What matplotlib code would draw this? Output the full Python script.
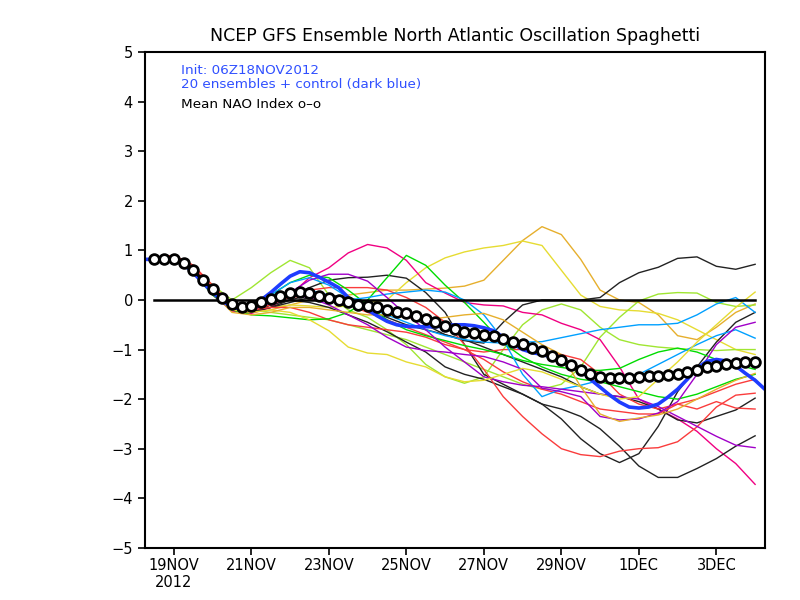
import numpy as np
import pandas as pd
import matplotlib
matplotlib.use('Agg')
import matplotlib.pyplot as plt
import matplotlib.dates as mdates

# times: ensembles/mean start 12Z18NOV, control 06Z18NOV
mean_times = pd.date_range('2012-11-18 12:00', periods=63, freq='6h')
ens_times = pd.date_range('2012-11-18 12:00', periods=32, freq='12h')
ctl_times = pd.date_range('2012-11-18 06:00', periods=65, freq='6h')

# ensemble mean (every 6h)
nao_mean = [0.82, 0.82, 0.82, 0.75, 0.60, 0.40, 0.22, 0.05, -0.08, -0.15,
            -0.12, -0.05, 0.03, 0.08, 0.15, 0.17, 0.15, 0.09, 0.05, -0.01,
            -0.05, -0.10, -0.13, -0.15, -0.20, -0.24, -0.27, -0.32, -0.38, -0.45,
            -0.52, -0.59, -0.64, -0.67, -0.71, -0.73, -0.79, -0.84, -0.88, -0.97,
            -1.03, -1.12, -1.22, -1.32, -1.42, -1.50, -1.55, -1.57, -1.57, -1.57,
            -1.55, -1.54, -1.53, -1.52, -1.50, -1.46, -1.41, -1.36, -1.33, -1.30,
            -1.28, -1.26, -1.26]

# control run (dark blue, every 6h)
nao_control = [0.82, 0.82, 0.82, 0.80, 0.72, 0.55, 0.35, 0.15, -0.02, -0.15,
               -0.18, -0.12, 0.00, 0.15, 0.32, 0.48, 0.57, 0.55, 0.46, 0.36,
               0.25, 0.05, -0.10, -0.20, -0.32, -0.43, -0.50, -0.53, -0.54, -0.54,
               -0.54, -0.52, -0.50, -0.50, -0.52, -0.56, -0.62, -0.75, -0.88, -1.00,
               -1.06, -1.10, -1.15, -1.22, -1.30, -1.42, -1.60, -1.76, -1.92, -2.06,
               -2.16, -2.18, -2.16, -2.10, -1.96, -1.80, -1.60, -1.38, -1.24, -1.20,
               -1.23, -1.33, -1.48, -1.62, -1.80]

# 20 ensemble members (every 12h)
orange1 = [0.85, 0.88, 0.62, 0.15, -0.22, -0.25, -0.2, -0.1, 0.0, 0.05, 0.1, 0.15, 0.2, 0.2, 0.22, 0.24,
           0.28, 0.4, 0.8, 1.2, 1.48, 1.32, 0.82, 0.2, 0.0, -0.05, -0.3, -0.72, -0.8, -0.55, -0.25, -0.08]
yellow_hi = [0.82, 0.84, 0.6, 0.2, -0.15, -0.2, -0.15, -0.1, -0.12, -0.15, -0.12, -0.05, 0.0, 0.35, 0.65, 0.85,
             0.97, 1.05, 1.1, 1.19, 1.1, 0.6, 0.1, -0.13, -0.2, -0.22, -0.27, -0.4, -0.6, -0.8, -1.0, -1.1]
lgreen_a = [0.82, 0.85, 0.65, 0.3, 0.0, 0.25, 0.55, 0.8, 0.65, 0.1, -0.2, -0.35, -0.6, -0.9, -1.3, -1.55,
            -1.68, -1.55, -1.0, -0.5, -0.2, -0.08, -0.2, -0.55, -0.8, -0.9, -0.95, -0.98, -1.0, -1.02, -1.0, -1.0]
lgreen_b = [0.82, 0.84, 0.6, 0.2, -0.15, -0.2, -0.25, -0.3, -0.35, -0.4, -0.5, -0.6, -0.7, -0.8, -0.95, -1.1,
            -1.25, -1.4, -1.55, -1.7, -1.8, -1.7, -1.35, -0.75, -0.35, -0.02, 0.12, 0.15, 0.14, -0.05, -0.13, -0.1]
pink_hi = [0.82, 0.85, 0.6, 0.1, -0.22, -0.27, -0.15, 0.1, 0.45, 0.65, 0.95, 1.12, 1.05, 0.8, 0.35, 0.14,
           -0.05, -0.1, -0.12, -0.25, -0.3, -0.47, -0.6, -0.8, -1.35, -2.0, -2.2, -2.4, -2.65, -3.0, -3.3, -3.72]
black_hi = [0.82, 0.82, 0.6, 0.15, -0.2, -0.25, -0.15, 0.0, 0.1, 0.1, 0.05, -0.05, -0.15, -0.3, -0.5, -0.7,
            -0.82, -0.87, -0.45, -0.1, 0.0, 0.0, 0.0, 0.05, 0.35, 0.55, 0.66, 0.84, 0.87, 0.68, 0.62, 0.72]
black_deep1 = [0.82, 0.82, 0.55, 0.15, -0.2, -0.25, -0.1, 0.1, 0.25, 0.4, 0.45, 0.46, 0.5, 0.44, 0.15, -0.25,
               -0.9, -1.5, -1.7, -1.9, -2.1, -2.4, -2.8, -3.1, -3.28, -3.1, -2.55, -1.85, -1.35, -0.85, -0.45, -0.25]
black_deep2 = [0.82, 0.82, 0.6, 0.2, -0.15, -0.2, -0.1, 0.0, -0.05, -0.15, -0.3, -0.45, -0.64, -0.85, -1.05, -1.35,
               -1.5, -1.6, -1.75, -1.9, -2.1, -2.2, -2.35, -2.6, -2.95, -3.35, -3.58, -3.58, -3.4, -3.2, -2.95, -2.74]
black_3 = [0.82, 0.82, 0.58, 0.18, -0.18, -0.22, -0.15, -0.05, 0.05, 0.05, -0.05, -0.2, -0.35, -0.5, -0.6, -0.7,
           -0.8, -0.95, -1.1, -1.25, -1.4, -1.55, -1.75, -1.9, -1.95, -2.05, -2.2, -2.42, -2.48, -2.35, -2.22, -1.98]
red_deep = [0.85, 0.9, 0.7, 0.3, -0.1, -0.2, -0.1, 0.1, 0.2, 0.25, 0.25, 0.25, 0.2, 0.05, -0.15, -0.45,
            -0.9, -1.4, -1.95, -2.35, -2.7, -3.0, -3.12, -3.16, -3.05, -3.0, -2.98, -2.86, -2.56, -2.16, -1.92, -1.88]
red_2 = [0.85, 0.88, 0.65, 0.25, -0.1, -0.15, -0.05, 0.05, 0.1, 0.05, -0.1, -0.25, -0.4, -0.55, -0.7, -0.85,
         -1.0, -1.2, -1.45, -1.65, -1.8, -1.9, -2.05, -2.2, -2.25, -2.3, -2.3, -2.1, -2.2, -2.05, -2.18, -2.2]
red_3 = [0.85, 0.9, 0.7, 0.25, -0.1, -0.2, -0.15, -0.15, -0.25, -0.4, -0.5, -0.55, -0.6, -0.65, -0.75, -0.9,
         -1.0, -1.05, -1.0, -1.0, -1.05, -1.1, -1.2, -1.5, -1.9, -2.1, -2.2, -2.1, -2.0, -1.85, -1.7, -1.6]
green_pk = [0.82, 0.85, 0.6, 0.2, -0.2, -0.3, -0.32, -0.36, -0.4, -0.38, -0.25, 0.0, 0.45, 0.9, 0.7, 0.3,
            -0.05, -0.45, -0.87, -1.15, -1.35, -1.5, -1.6, -1.65, -1.75, -1.85, -1.95, -2.0, -1.9, -1.75, -1.6, -1.5]
green_2 = [0.82, 0.82, 0.55, 0.1, -0.2, -0.1, 0.1, 0.35, 0.5, 0.45, 0.2, -0.1, -0.4, -0.6, -0.72, -0.82,
           -0.92, -1.0, -1.1, -1.22, -1.3, -1.36, -1.42, -1.42, -1.38, -1.2, -1.05, -0.97, -1.05, -1.2, -1.3, -1.4]
cyan_1 = [0.82, 0.85, 0.62, 0.2, -0.1, -0.1, 0.1, 0.35, 0.45, 0.3, 0.05, -0.15, -0.3, -0.45, -0.6, -0.72,
          -0.8, -0.85, -0.87, -0.85, -0.84, -0.76, -0.68, -0.6, -0.55, -0.5, -0.5, -0.47, -0.3, -0.08, 0.05, -0.25]
cyan_2 = [0.82, 0.82, 0.58, 0.15, -0.2, -0.2, -0.05, 0.15, 0.2, 0.1, 0.0, 0.05, 0.12, 0.16, 0.2, 0.16,
          0.0, -0.3, -0.8, -1.5, -1.95, -1.8, -1.72, -1.62, -1.6, -1.5, -1.3, -1.1, -0.9, -0.72, -0.6, -0.77]
purple_1 = [0.82, 0.85, 0.62, 0.2, -0.15, -0.15, 0.0, 0.1, 0.05, -0.1, -0.3, -0.5, -0.75, -0.95, -1.02, -1.05,
            -1.1, -1.14, -1.25, -1.4, -1.78, -1.85, -1.95, -2.35, -2.42, -2.4, -2.28, -2.05, -1.5, -0.9, -0.55, -0.45]
purple_2 = [0.82, 0.85, 0.6, 0.15, -0.2, -0.2, -0.05, 0.15, 0.4, 0.52, 0.52, 0.38, 0.05, -0.3, -0.6, -0.95,
            -1.25, -1.55, -1.65, -1.72, -1.75, -1.8, -1.85, -1.9, -1.95, -2.0, -2.15, -2.35, -2.55, -2.75, -2.93, -2.98]
yellow_lo = [0.82, 0.85, 0.6, 0.15, -0.2, -0.25, -0.2, -0.25, -0.4, -0.62, -0.95, -1.07, -1.1, -1.25, -1.35, -1.55,
             -1.65, -1.62, -1.5, -1.38, -1.45, -1.6, -1.75, -1.9, -2.0, -1.95, -1.6, -1.25, -0.85, -0.5, -0.15, 0.16]
orange2 = [0.85, 0.88, 0.6, 0.15, -0.25, -0.3, -0.25, -0.15, -0.15, -0.2, -0.25, -0.3, -0.3, -0.35, -0.4, -0.35,
           -0.3, -0.27, -0.4, -0.65, -0.9, -1.1, -1.75, -2.3, -2.45, -2.38, -2.32, -2.2, -2.0, -1.8, -1.62, -1.48]

members = [
    (orange1, '#E6AF2D'), (yellow_hi, '#E6DC32'), (lgreen_a, '#A0E632'),
    (lgreen_b, '#A0E632'), (pink_hi, '#F00082'), (black_hi, '#222222'),
    (black_deep1, '#222222'), (black_deep2, '#222222'), (black_3, '#222222'),
    (red_deep, '#FA3C3C'), (red_2, '#FA3C3C'), (red_3, '#FA3C3C'),
    (green_pk, '#00DC00'), (green_2, '#00DC00'), (cyan_1, '#00A0FF'),
    (cyan_2, '#00A0FF'), (purple_1, '#A000C8'), (purple_2, '#A000C8'),
    (yellow_lo, '#E6DC32'), (orange2, '#E6AF2D'),
]

tick_dates = pd.to_datetime(['2012-11-19', '2012-11-21', '2012-11-23', '2012-11-25',
                             '2012-11-27', '2012-11-29', '2012-12-01', '2012-12-03'])
tick_labels = ['19NOV\n2012', '21NOV', '23NOV', '25NOV', '27NOV', '29NOV', '1DEC', '3DEC']

fig = plt.figure(figsize=(8, 6), dpi=100)
ax = fig.add_axes([0.181, 0.087, 0.775, 0.826])

for vals, col in members:
    ax.plot(ens_times, vals, color=col, lw=1.0)

ax.plot(ctl_times, nao_control, color='#1E3CFF', lw=2.6)
ax.plot([mean_times[0], mean_times[-1]], [0, 0], color='black', lw=1.8)
ax.plot(mean_times, nao_mean, color='black', lw=2.2, marker='o', ms=7,
        mfc='white', mec='black', mew=2.0)

ax.set_xlim(pd.Timestamp('2012-11-18 06:00'), pd.Timestamp('2012-12-04 06:00'))
ax.set_ylim(-5, 5)
ax.set_yticks(range(-5, 6))
ax.set_xticks(tick_dates)
ax.set_xticklabels(tick_labels)
ax.tick_params(axis='both', direction='out', length=5, width=1.2, labelsize=10.5)
ax.tick_params(axis='x', pad=2)
for s in ax.spines.values():
    s.set_linewidth(1.5)

ax.set_title('NCEP GFS Ensemble North Atlantic Oscillation Spaghetti', fontsize=12.5, pad=8)
ax.text(0.058, 0.964, 'Init: 06Z18NOV2012', transform=ax.transAxes, color='#3050FF',
        fontsize=9.7, va='center')
ax.text(0.058, 0.935, '20 ensembles + control (dark blue)', transform=ax.transAxes,
        color='#3050FF', fontsize=9.7, va='center')
ax.text(0.058, 0.895, 'Mean NAO Index o\u2013o', transform=ax.transAxes, color='black',
        fontsize=9.7, va='center')

fig.savefig('out.png', dpi=100)
